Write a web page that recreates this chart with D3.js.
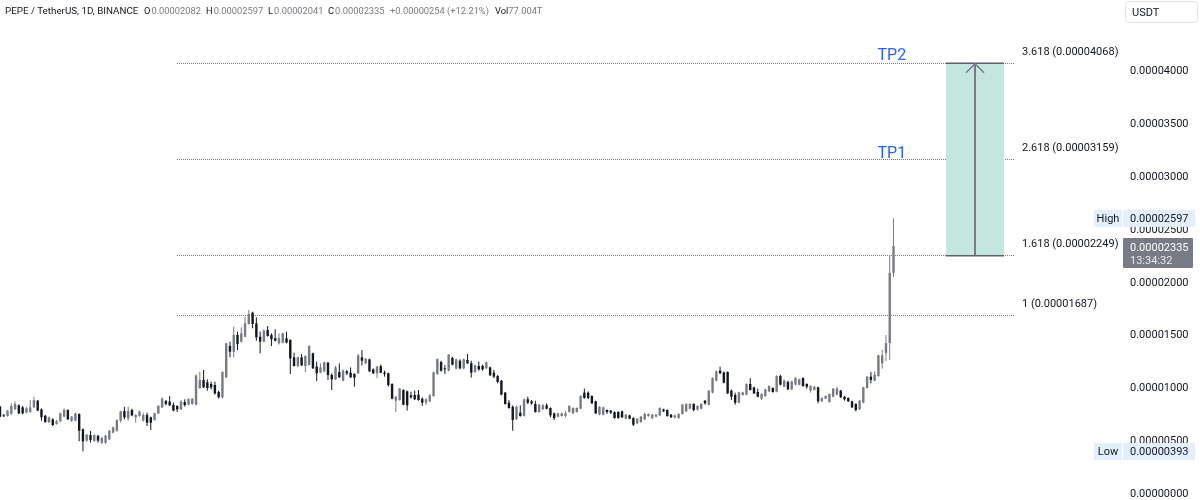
<!DOCTYPE html>
<html><head><meta charset="utf-8">
<script src="https://cdnjs.cloudflare.com/ajax/libs/d3/7.8.5/d3.min.js"></script>
<style>html,body{margin:0;padding:0;background:#fff}svg{display:block;filter:blur(0.3px)}text{font-family:Roboto,"Liberation Sans",sans-serif}</style>
</head><body><svg id="c" width="1200" height="500"></svg>
<script>
// Prices are in units of 0.00000001 USDT
const opens=[816,734,728,747,791,829,810,760,766,810,873,791,731,668,697,652,678,722,785,684,684,747,602,495,548,492,542,476,476,507,571,589,684,775,706,785,716,728,684,738,716,690,753,810,870,864,832,823,791,860,835,842,835,990,1069,1046,1031,1021,955,905,1094,1390,1336,1494,1431,1478,1598,1705,1604,1478,1431,1541,1494,1463,1415,1422,1463,1447,1283,1201,
1283,1201,1210,1321,1195,1138,1150,1232,1116,1075,1144,1062,1150,1138,1125,1132,1283,1226,1264,1169,1132,1201,1138,1132,1031,873,879,974,961,924,927,930,892,854,867,917,1125,1239,1179,1157,1277,1176,1251,1179,1258,1226,1144,1201,1201,1179,1188,1138,1106,1062,949,854,816,697,760,728,886,867,842,766,791,829,804,753,722,728,728,766,753,766,797,949,949,917,867,741,
741,785,779,766,766,772,703,734,709,659,671,697,728,709,722,734,791,785,741,716,709,747,772,797,842,791,797,873,835,949,1062,1157,1141,1144,968,927,854,927,930,1031,999,955,892,917,961,993,958,1106,1005,1050,980,1024,1024,1087,1031,968,974,999,867,892,860,911,930,968,911,898,867,842,791,854,993,1100,1062,1106,1226,1324,1418,2082];
const highs=[823,747,785,848,864,838,823,816,879,911,879,801,738,722,706,690,760,801,791,728,760,753,611,558,586,555,548,533,548,596,627,697,779,816,816,797,744,779,760,760,722,760,832,905,879,917,854,829,879,886,895,898,1119,1147,1163,1075,1053,1053,968,1150,1422,1431,1573,1526,1567,1667,1730,1715,1661,1526,1548,1579,1510,1548,1510,1516,1526,1453,1327,1289,
1314,1302,1396,1327,1242,1226,1242,1239,1132,1201,1226,1169,1163,1188,1132,1314,1352,1277,1270,1179,1201,1214,1157,1138,1037,917,993,980,968,958,968,974,905,895,936,1147,1273,1251,1210,1314,1289,1270,1264,1273,1314,1251,1214,1242,1214,1242,1195,1163,1116,1069,955,879,829,823,829,892,911,879,873,842,842,848,810,760,760,760,772,829,810,810,924,987,961,924,873,823,
816,791,785,772,772,779,747,741,716,709,728,760,753,747,747,810,797,791,747,741,753,842,848,848,848,829,848,879,974,1094,1157,1195,1147,1150,980,949,958,958,1037,1087,1005,987,942,987,1018,999,1113,1119,1075,1062,1062,1094,1081,1094,1037,1018,1012,1005,905,924,942,993,1005,974,917,905,873,848,879,1005,1106,1144,1150,1308,1352,1494,2250,2597];
const lows=[716,722,722,741,785,747,744,753,760,804,775,684,665,662,634,646,671,716,690,671,678,489,393,485,476,485,476,463,463,501,564,580,665,697,684,725,665,722,675,634,596,684,747,804,829,823,772,766,785,816,829,835,829,987,993,968,980,930,892,892,1087,1283,1283,1352,1422,1472,1592,1557,1440,1321,1425,1478,1390,1434,1403,1415,1415,1125,1195,1188,
1201,1144,1207,1173,1059,1132,1144,1069,974,1069,1087,1056,1116,1087,1005,1125,1207,1220,1144,1125,1087,1132,1100,1005,886,766,873,829,779,892,879,873,823,832,860,911,1116,1147,1125,1150,1207,1169,1169,1169,1220,1091,1138,1157,1157,1173,1106,1087,1037,924,835,797,589,690,722,722,842,835,760,760,785,791,716,690,716,722,716,760,747,760,791,892,886,842,747,734,
734,747,747,703,703,709,697,697,634,652,665,690,722,697,716,728,766,722,709,703,703,741,766,791,772,779,791,835,829,942,1056,1125,1037,936,879,835,848,920,924,968,936,905,879,911,955,949,952,1018,999,974,974,1018,1018,1005,987,949,968,848,860,886,854,905,924,898,873,860,804,772,785,848,987,1037,1056,1100,1176,1248,1258,2041];
const closes=[722,725,779,823,842,753,753,801,810,879,779,716,671,716,643,678,753,785,697,722,753,589,489,552,501,548,495,520,542,589,621,690,772,716,775,734,738,772,738,665,665,753,823,892,842,829,779,791,864,832,889,892,1113,1069,999,993,999,942,905,1144,1415,1336,1494,1409,1510,1604,1693,1598,1472,1431,1535,1485,1453,1440,1463,1510,1422,1273,1201,1283,
1207,1295,1390,1179,1132,1188,1236,1116,1075,1188,1094,1157,1132,1094,1091,1302,1251,1270,1150,1132,1195,1138,1125,1021,892,911,987,835,829,905,886,879,854,886,924,1141,1267,1157,1169,1308,1214,1264,1179,1264,1226,1138,1207,1169,1169,1236,1113,1100,1050,930,842,804,690,816,728,886,854,848,766,835,829,797,734,709,753,753,753,823,804,804,917,898,898,848,753,816,
810,766,760,709,709,716,741,703,646,703,722,747,747,741,741,804,772,728,716,734,747,835,842,842,785,823,842,848,968,1087,1150,1132,1043,942,911,854,952,952,1031,974,942,911,936,980,1012,955,1106,1024,1062,980,1056,1087,1075,1012,1005,1012,1005,867,898,917,936,987,987,905,886,867,810,785,873,999,1100,1069,1119,1302,1302,1418,2081,2335];

const fibRatios=["1","1.618","2.618","3.618"];
const fibPrices=[1687,2249,3159,4068];
const targetNames=["TP1","TP2"];
const targetPrices=[3159,4068];
const axisTicks=[0,500,1000,1500,2000,2500,3000,3500,4000];
const boxFrom=2249, boxTo=4068;
const lastPrice=2335, dayHigh=2597, dayLow=393, countdown="13:34:32";
const legendTitle="PEPE / TetherUS, 1D, BINANCE";
const legendOHLC=[["O","0.00002082"],["H","0.00002597"],["L","0.00002041"],["C","0.00002335"]];
const legendChange="+0.00000254 (+12.21%)";
const legendVol=["Vol","77.004T"];

const fmt=v=>(v/1e8).toFixed(8);
const UP="#787b86",DOWN="#131722";
const svg=d3.select("#c");
const y=d3.scaleLinear().domain([0,4000]).range([493,70]);
const x=d3.scaleLinear().domain([0,opens.length-1]).range([0,893.5]);

// Fibonacci level lines
svg.append("g").selectAll("line").data(fibPrices).join("line")
 .attr("x1",177).attr("x2",1015).attr("y1",d=>Math.round(y(d))+.5).attr("y2",d=>Math.round(y(d))+.5)
 .attr("stroke","#787b86").attr("stroke-width",1).attr("stroke-dasharray","1 1");

// Candles
const idx=d3.range(opens.length);
const g=svg.append("g");
g.selectAll("line").data(idx).join("line")
 .attr("x1",i=>x(i)).attr("x2",i=>x(i)).attr("y1",i=>y(highs[i])).attr("y2",i=>y(lows[i]))
 .attr("stroke",i=>closes[i]>=opens[i]?UP:DOWN).attr("stroke-width",1);
g.selectAll("rect").data(idx).join("rect")
 .attr("x",i=>x(i)-1.2).attr("width",2.4)
 .attr("y",i=>y(Math.max(opens[i],closes[i])))
 .attr("height",i=>Math.max(1,Math.abs(y(opens[i])-y(closes[i]))))
 .attr("fill",i=>closes[i]>=opens[i]?UP:DOWN);

// Target box with arrow
const by0=y(boxFrom),by1=y(boxTo);
svg.append("rect").attr("x",946).attr("width",58).attr("y",by1).attr("height",by0-by1).attr("fill","#c3e6df");
svg.selectAll(".bl").data([boxFrom,boxTo]).join("line").attr("class","bl")
 .attr("x1",946).attr("x2",1004).attr("y1",d=>y(d)+.5).attr("y2",d=>y(d)+.5).attr("stroke","#5d606b").attr("stroke-width",1.5);
svg.append("path").attr("fill","none").attr("stroke","#787b86").attr("stroke-width",2)
 .attr("d",d3.line()([[975,by0],[975,by1+1]]));
svg.append("path").attr("fill","none").attr("stroke","#787b86").attr("stroke-width",1.5)
 .attr("d",d3.line()([[966,by1+10],[975,by1+1],[984,by1+10]]));

// Fib labels
svg.append("g").selectAll("text").data(fibPrices).join("text")
 .attr("x",1022).attr("y",d=>y(d)-8).attr("fill","#131722").attr("font-size",11)
 .text((d,i)=>`${fibRatios[i]} (${fmt(d)})`);

// TP labels
svg.append("g").selectAll("text").data(targetPrices).join("text")
 .attr("x",877.5).attr("y",(d,i)=>y(d)-(i?3:1)).attr("fill","#2962ff").attr("font-size",16)
 .text((d,i)=>targetNames[i]);

// Price axis
const axis=svg.append("g").attr("transform","translate(1122,0)").call(d3.axisRight(y).tickValues(axisTicks).tickFormat(fmt).tickSize(0).tickPadding(8));
axis.select(".domain").remove();
axis.selectAll("text").attr("fill","#131722").attr("font-size",11).style("font-family","Roboto");

// Axis badges
function badge(label,val,cy){
 svg.append("rect").attr("x",1094).attr("y",cy-8.5).attr("width",28).attr("height",17).attr("fill","#e3effd");
 svg.append("rect").attr("x",1123).attr("y",cy-8.5).attr("width",72).attr("height",17).attr("fill","#e3effd");
 svg.append("text").attr("x",1108).attr("y",cy+4).attr("text-anchor","middle").attr("font-size",11).attr("fill","#131722").text(label);
 svg.append("text").attr("x",1130).attr("y",cy+4).attr("font-size",11).attr("fill","#131722").text(fmt(val));
}
badge("High",dayHigh,y(dayHigh));
badge("Low",dayLow,y(dayLow));
const ly=y(lastPrice);
svg.append("rect").attr("x",1123).attr("y",ly-8).attr("width",70).attr("height",30).attr("rx",1).attr("fill","#787b86");
svg.append("text").attr("x",1130).attr("y",ly+4.5).attr("font-size",11).attr("fill","#fff").text(fmt(lastPrice));
svg.append("text").attr("x",1130).attr("y",ly+18).attr("font-size",11).attr("fill","#e8e8ec").text(countdown);

// Currency button
svg.append("rect").attr("x",1125.5).attr("y",1.5).attr("width",72).attr("height",21).attr("rx",3).attr("fill","#fff").attr("stroke","#e0e3eb");
svg.append("text").attr("x",1132).attr("y",16).attr("font-size",11).attr("fill","#131722").text("USDT");

// Legend
const lg=svg.append("g").attr("font-size",9.3);
lg.append("text").attr("x",5).attr("y",14).attr("fill","#131722").attr("font-size",9.8).text(legendTitle);
const xs=[144,206,268,328];
legendOHLC.forEach((p,i)=>{
 const t=lg.append("text").attr("x",xs[i]).attr("y",14);
 t.append("tspan").attr("fill","#131722").text(p[0]);
 t.append("tspan").attr("fill","#787b86").attr("dx",1).text(p[1]);
});
lg.append("text").attr("x",390).attr("y",14).attr("fill","#787b86").text(legendChange);
const v=lg.append("text").attr("x",495).attr("y",14);
v.append("tspan").attr("fill","#131722").text(legendVol[0]);
v.append("tspan").attr("fill","#787b86").text(legendVol[1]);
</script></body></html>
